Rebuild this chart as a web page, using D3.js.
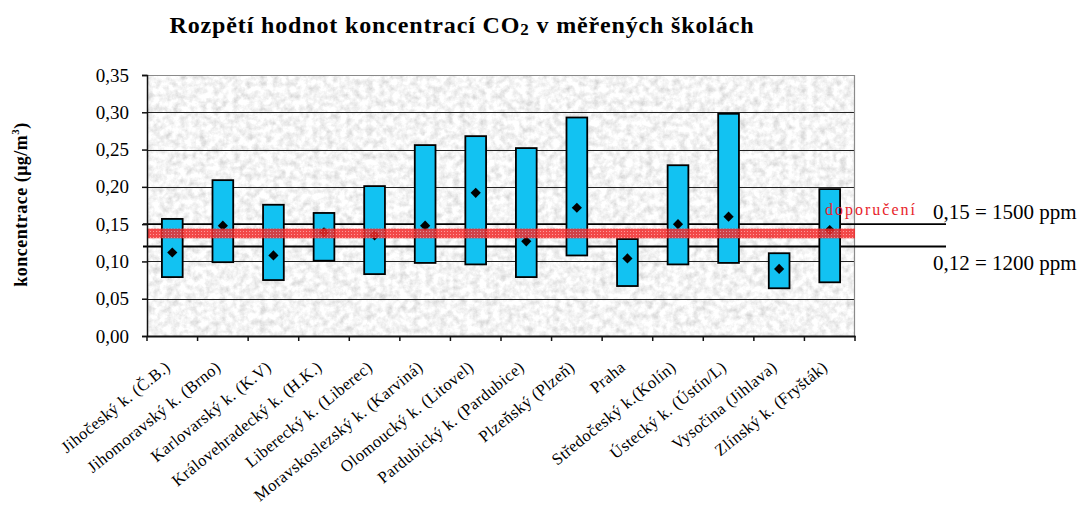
<!DOCTYPE html>
<html>
<head>
<meta charset="utf-8">
<script src="https://cdn.jsdelivr.net/npm/d3@7"></script>
<style>
  body { margin: 0; background: #fff; }
  svg { display: block; }
  text { font-family: "Liberation Serif", "Times New Roman", serif; fill: #000; }
</style>
</head>
<body>
<div id="master"></div>
<script>
// data
let regions = ["Jihočeský k. (Č.B.)", "Jihomoravský k. (Brno)", "Karlovarský k. (K.V)", "Královehradecký k. (H.K.)",
  "Liberecký k. (Liberec)", "Moravskoslezský k. (Karviná)", "Olomoucký k. (Litovel)", "Pardubický k. (Pardubice)",
  "Plzeňský (Plzeň)", "Praha", "Středočeský k.(Kolín)", "Ústecký k. (Ústín/L)", "Vysočina (Jihlava)", "Zlínský k. (Fryšták)"]
let maxVals = [0.157, 0.209, 0.176, 0.165, 0.201, 0.256, 0.268, 0.252, 0.293, 0.130, 0.229, 0.298, 0.111, 0.197]
let minVals = [0.079, 0.099, 0.075, 0.101, 0.083, 0.098, 0.096, 0.079, 0.108, 0.067, 0.096, 0.098, 0.064, 0.072]
let avgVals = [0.112, 0.148, 0.108, 0.139, 0.135, 0.148, 0.192, 0.127, 0.172, 0.104, 0.150, 0.160, 0.090, 0.142]
let yTicks = [0, 0.05, 0.10, 0.15, 0.20, 0.25, 0.30, 0.35]
let limitVals = [0.15, 0.12]
let limitLabels = ["0,15 = 1500 ppm", "0,12 = 1200 ppm"]
let recBand = [0.131, 0.144]

let w = 1081, h = 506
let plot = { left: 147, right: 855, top: 75, bottom: 336 }

let svg = d3.select("#master").append("svg").attr("width", w).attr("height", h)
let defs = svg.append("defs")

// granite-ish background
let f = defs.append("filter").attr("id", "granite").attr("x", 0).attr("y", 0).attr("width", "100%").attr("height", "100%")
f.append("feTurbulence").attr("type", "fractalNoise").attr("baseFrequency", 0.15).attr("numOctaves", 4).attr("seed", 11)
f.append("feColorMatrix").attr("type", "saturate").attr("values", 0)
let ct = f.append("feComponentTransfer")
ct.append("feFuncR").attr("type", "linear").attr("slope", 0.8).attr("intercept", 0.51)
ct.append("feFuncG").attr("type", "linear").attr("slope", 0.8).attr("intercept", 0.51)
ct.append("feFuncB").attr("type", "linear").attr("slope", 0.8).attr("intercept", 0.51)
ct.append("feFuncA").attr("type", "table").attr("tableValues", "1 1")

let pat = defs.append("pattern").attr("id", "redband").attr("width", 3).attr("height", 3).attr("patternUnits", "userSpaceOnUse")
pat.append("rect").attr("width", 3).attr("height", 3).attr("fill", "#f22a2a")
pat.append("rect").attr("width", 1).attr("height", 1).attr("fill", "#ff8a8a")

let x = d3.scaleBand().domain(regions).range([plot.left, plot.right]).paddingInner(0).paddingOuter(0)
let y = d3.scaleLinear().domain([0, 0.35]).range([plot.bottom, plot.top])

svg.append("rect").attr("x", plot.left).attr("y", plot.top)
  .attr("width", plot.right - plot.left).attr("height", plot.bottom - plot.top)
  .attr("filter", "url(#granite)")

// gridlines
svg.append("g").selectAll("line").data(yTicks.slice(1, -1)).enter().append("line")
  .attr("x1", plot.left).attr("x2", plot.right)
  .attr("y1", d => Math.round(y(d)) + 0.5).attr("y2", d => Math.round(y(d)) + 0.5)
  .attr("stroke", "#222").attr("stroke-width", 1)

// border top/right
svg.append("path")
  .attr("d", `M${plot.left},${plot.top + 0.5}H${plot.right - 0.5}V${plot.bottom}`)
  .attr("fill", "none").attr("stroke", "#8a8a8a").attr("stroke-width", 1.2)

// limit lines
svg.append("g").selectAll("line").data(limitVals).enter().append("line")
  .attr("x1", plot.left - 4).attr("x2", 946)
  .attr("y1", d => y(d)).attr("y2", d => y(d))
  .attr("stroke", "#000").attr("stroke-width", 1.8)

// range bars
let bw = x.bandwidth() * 0.41
svg.append("g").selectAll("rect").data(regions).enter().append("rect")
  .attr("x", d => x(d) + (x.bandwidth() - bw) / 2)
  .attr("y", (d, i) => y(maxVals[i]))
  .attr("width", bw)
  .attr("height", (d, i) => y(minVals[i]) - y(maxVals[i]))
  .attr("fill", "#12c2f2").attr("stroke", "#000").attr("stroke-width", 1.8)

// averages
svg.append("g").selectAll("path").data(regions).enter().append("path")
  .attr("d", d3.symbol().type(d3.symbolSquare).size(52))
  .attr("transform", (d, i) => `translate(${x(d) + x.bandwidth() / 2},${y(avgVals[i])}) rotate(45)`)
  .attr("fill", "#000")

// recommended band
svg.append("rect").attr("x", plot.left).attr("width", plot.right - plot.left)
  .attr("y", y(recBand[1])).attr("height", y(recBand[0]) - y(recBand[1]))
  .attr("fill", "url(#redband)").attr("opacity", 0.85)

svg.append("text").attr("x", 825).attr("y", 215).text("doporučení")
  .style("fill", "#e8232b").style("font-size", "16px").style("letter-spacing", "2px")

svg.append("g").selectAll("text").data(limitVals).enter().append("text")
  .attr("x", 933).attr("y", d => y(d) + (d > 0.13 ? -5 : 23))
  .text((d, i) => limitLabels[i]).style("font-size", "21px")

// y axis
let yAxis = d3.axisLeft(y).tickValues(yTicks).tickSize(5).tickPadding(13)
  .tickFormat(d => d3.format(".2f")(d).replace(".", ","))
let gy = svg.append("g").attr("transform", `translate(${plot.left},0)`).call(yAxis)
gy.selectAll("text").style("font-size", "19px").style("font-family", "Liberation Serif")
gy.selectAll("line, path").attr("stroke", "#111").attr("stroke-width", 1.5)

// x axis
let xAxis = d3.axisBottom(x).tickSize(0).tickFormat("")
let gx = svg.append("g").attr("transform", `translate(0,${plot.bottom})`).call(xAxis)
gx.select("path").attr("stroke", "#111").attr("stroke-width", 1.8)
svg.append("g").selectAll("line").data(regions.concat([null])).enter().append("line")
  .attr("x1", (d, i) => plot.left + i * x.step()).attr("x2", (d, i) => plot.left + i * x.step())
  .attr("y1", plot.bottom).attr("y2", plot.bottom + 5)
  .attr("stroke", "#111").attr("stroke-width", 1.5)

svg.append("g").selectAll("text").data(regions).enter().append("text")
  .attr("transform", d => `translate(${x(d) + x.bandwidth() / 2 - 1},${plot.bottom + 33}) rotate(-39)`)
  .attr("text-anchor", "end")
  .style("font-size", "16.5px").style("letter-spacing", "0.4px")
  .text(d => d)

// titles
let title = svg.append("text").attr("x", 462).attr("y", 33).attr("text-anchor", "middle")
  .style("font-size", "24px").style("font-weight", "bold").style("letter-spacing", "0.85px")
title.append("tspan").text("Rozpětí hodnot koncentrací CO")
title.append("tspan").text("2").style("font-size", "17px").attr("dy", 2)
title.append("tspan").text(" v měřených školách").attr("dy", -2)

let ylab = svg.append("text").attr("transform", `translate(27,${(plot.top + plot.bottom) / 2 - 1}) rotate(-90)`)
  .attr("text-anchor", "middle").style("font-size", "18px").style("font-weight", "bold").style("letter-spacing", "0.5px")
ylab.append("tspan").text("koncentrace (μg/m")
ylab.append("tspan").text("3").style("font-size", "11px").attr("dy", -8)
ylab.append("tspan").text(")").attr("dy", 8)
</script>
</body>
</html>
